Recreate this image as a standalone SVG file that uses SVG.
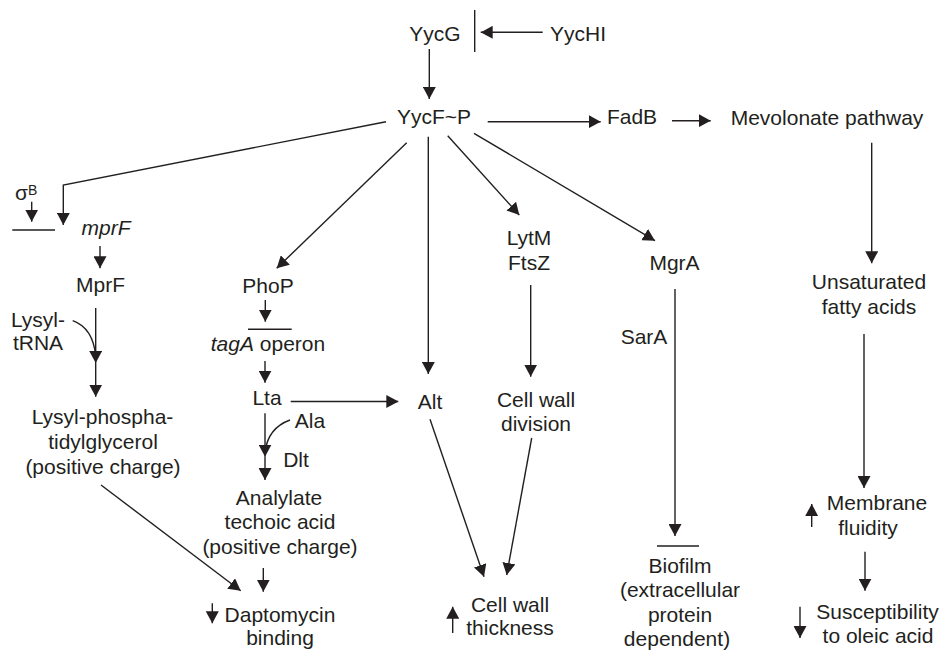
<svg xmlns="http://www.w3.org/2000/svg" width="942" height="652" viewBox="0 0 942 652">
<style>
text{font-family:"Liberation Sans",Arial,sans-serif;font-size:21px;fill:#231f20;text-anchor:middle}
.c{fill:none;stroke:#231f20;stroke-width:1.4}
.a{marker-end:url(#ah)}
.it{font-style:italic}
</style>
<defs>
<marker id="ah" viewBox="0 0 12 13" refX="12" refY="6.5" markerWidth="12" markerHeight="13" markerUnits="userSpaceOnUse" orient="auto">
<path d="M0,0 L12,6.5 L0,13 z" fill="#231f20"/>
</marker>
</defs>
<rect width="942" height="652" fill="#fff"/>
<g id="connectors">
<line class="c" x1="474.7" y1="10" x2="474.7" y2="52"/>
<line class="c a" x1="542.7" y1="32.3" x2="480.7" y2="32.3"/>
<line class="c a" x1="429.3" y1="49" x2="429.3" y2="99"/>
<line class="c a" x1="487.7" y1="121.7" x2="600.7" y2="121.7"/>
<line class="c a" x1="672" y1="120.7" x2="710.7" y2="120.7"/>
<line class="c a" x1="871.7" y1="142.7" x2="871.7" y2="263.3"/>
<line class="c a" x1="864" y1="334" x2="864" y2="488"/>
<line class="c a" x1="811.7" y1="527" x2="811.7" y2="504"/>
<line class="c a" x1="865" y1="551.7" x2="865" y2="590.7"/>
<line class="c a" x1="800" y1="606.7" x2="800" y2="638"/>
<line class="c a" x1="474" y1="133.3" x2="655" y2="240.7"/>
<line class="c a" x1="675" y1="289" x2="675" y2="536"/>
<line class="c" x1="657" y1="546" x2="699" y2="546"/>
<line class="c a" x1="447.7" y1="135.7" x2="519.3" y2="215"/>
<line class="c a" x1="530.7" y1="285" x2="530.7" y2="376.7"/>
<line class="c a" x1="531.7" y1="438" x2="506.7" y2="575"/>
<line class="c a" x1="430" y1="419.3" x2="484" y2="576.7"/>
<line class="c a" x1="452.7" y1="633" x2="452.7" y2="606.7"/>
<line class="c a" x1="428.3" y1="136.7" x2="428.3" y2="374"/>
<line class="c a" x1="290.7" y1="401.5" x2="398.3" y2="401.5"/>
<line class="c a" x1="406.7" y1="142.7" x2="276.7" y2="268.3"/>
<line class="c a" x1="265.3" y1="300" x2="265.3" y2="321.7"/>
<line class="c" x1="248" y1="329.3" x2="291.7" y2="329.3"/>
<line class="c a" x1="265" y1="361" x2="265" y2="382.7"/>
<line class="c a" x1="265" y1="413.3" x2="265" y2="456.7"/>
<line class="c a" x1="265" y1="456.7" x2="265" y2="480"/>
<path class="c" d="M290,420 Q268,428 265,452"/>
<line class="c a" x1="263.3" y1="568" x2="263.3" y2="591.7"/>
<line class="c a" x1="101" y1="485" x2="240.7" y2="590.7"/>
<line class="c a" x1="212.3" y1="603.3" x2="212.3" y2="623.3"/>
<polyline class="c a" points="386,121.7 63.3,185 63.3,225"/>
<line class="c a" x1="31.7" y1="201.7" x2="31.7" y2="221.7"/>
<line class="c" x1="12.3" y1="230" x2="55" y2="230"/>
<line class="c a" x1="100" y1="246" x2="100" y2="268.3"/>
<line class="c a" x1="95.7" y1="308" x2="95.7" y2="363"/>
<line class="c a" x1="95.7" y1="363" x2="95.7" y2="396.7"/>
<path class="c" d="M72.7,320.7 Q93,328 95.7,356"/>
</g>
<g id="YycG"><text x="435" y="41">YycG</text></g>
<g id="YycHI"><text x="578" y="41">YycHI</text></g>
<g id="YycF-P"><text x="434" y="124">YycF~P</text></g>
<g id="FadB"><text x="632" y="124">FadB</text></g>
<g id="Mevolonate"><text x="827" y="125">Mevolonate pathway</text></g>
<g id="UFA"><text x="869" y="289">Unsaturated</text><text x="869" y="314">fatty acids</text></g>
<g id="Membrane"><text x="877" y="510">Membrane</text><text x="868" y="535">fluidity</text></g>
<g id="Susceptibility"><text x="877.5" y="619">Susceptibility</text><text x="878" y="643">to oleic acid</text></g>
<g id="MgrA"><text x="674.5" y="270">MgrA</text></g>
<g id="SarA"><text x="644" y="344">SarA</text></g>
<g id="Biofilm"><text x="680" y="573">Biofilm</text><text x="680" y="597">(extracellular</text><text x="680" y="622">protein</text><text x="677" y="646">dependent)</text></g>
<g id="LytM"><text x="529" y="245">LytM</text><text x="529" y="270">FtsZ</text></g>
<g id="CellWallDivision"><text x="536" y="407">Cell wall</text><text x="536" y="431">division</text></g>
<g id="CellWallThickness"><text x="510" y="612">Cell wall</text><text x="510" y="635">thickness</text></g>
<g id="Alt"><text x="430" y="409">Alt</text></g>
<g id="PhoP"><text x="268" y="293">PhoP</text></g>
<g id="tagA"><text x="268" y="351"><tspan class="it">tagA</tspan> operon</text></g>
<g id="Lta"><text x="267" y="405">Lta</text></g>
<g id="Ala"><text x="310" y="428">Ala</text></g>
<g id="Dlt"><text x="296" y="467">Dlt</text></g>
<g id="Analylate"><text x="279" y="505">Analylate</text><text x="280" y="529">techoic acid</text><text x="280" y="554">(positive charge)</text></g>
<g id="Daptomycin"><text x="280" y="622">Daptomycin</text><text x="280" y="645">binding</text></g>
<g id="sigmaB"><text x="15" y="200" style="text-anchor:start">σ<tspan x="28" y="195" style="font-size:14px">B</tspan></text></g>
<g id="mprF"><text x="106" y="235" class="it">mprF</text></g>
<g id="MprF"><text x="100.5" y="292">MprF</text></g>
<g id="LysylTRNA"><text x="38" y="327">Lysyl-</text><text x="38" y="350">tRNA</text></g>
<g id="LysylPG"><text x="102.5" y="424">Lysyl-phospha-</text><text x="103" y="449">tidylglycerol</text><text x="103" y="474">(positive charge)</text></g>
</svg>
